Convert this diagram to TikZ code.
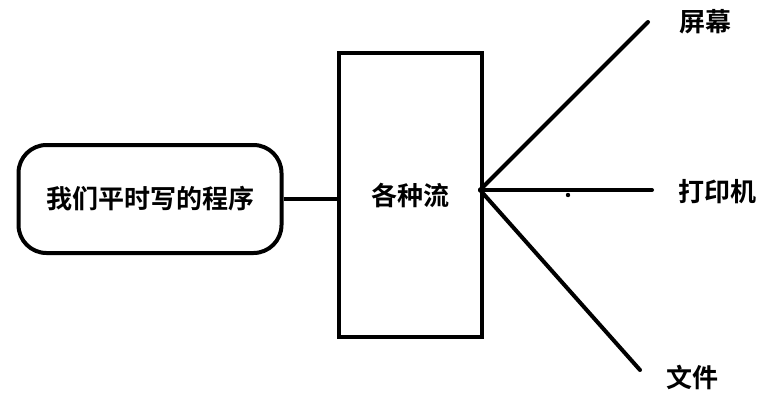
\documentclass[tikz,border=0pt]{standalone}
\usepackage{fontspec}
\newfontfamily\cjk{Noto Sans CJK SC}[BoldFont={Noto Sans CJK SC Bold}]
\begin{document}
\begin{tikzpicture}[x=1pt,y=-1pt,
  thick line/.style={line width=4pt,line cap=round},
  lbl/.style={font=\cjk\bfseries\fontsize{26}{30}\selectfont,inner sep=0pt},
  boxline/.style={draw,line width=4pt}]
\useasboundingbox (0,0) rectangle (770,416);
\node[boxline,rounded corners=28pt,minimum width=263pt,minimum height=108pt,lbl] (prog) at (150,199) {我们平时写的程序};
\node[boxline,minimum width=143pt,minimum height=284pt,lbl] (streams) at (410,195) {各种流};
\draw[line width=4pt] (prog.east) -- (prog.east -| streams.west);
\coordinate (hub) at (480,190);
\coordinate (e1) at (648,22);
\coordinate (e2) at (652,190);
\coordinate (e3) at (640,370);
\draw[thick line] (hub) -- (e1);
\draw[thick line] (hub) -- (e2);
\draw[thick line] (hub) -- (e3);
\fill (568,195) circle (2.2pt);
\node[lbl] (screen) at (705,22) {屏幕};
\node[lbl] (printer) at (717,192) {打印机};
\node[lbl] (file) at (692,377) {文件};
\end{tikzpicture}
\end{document}
